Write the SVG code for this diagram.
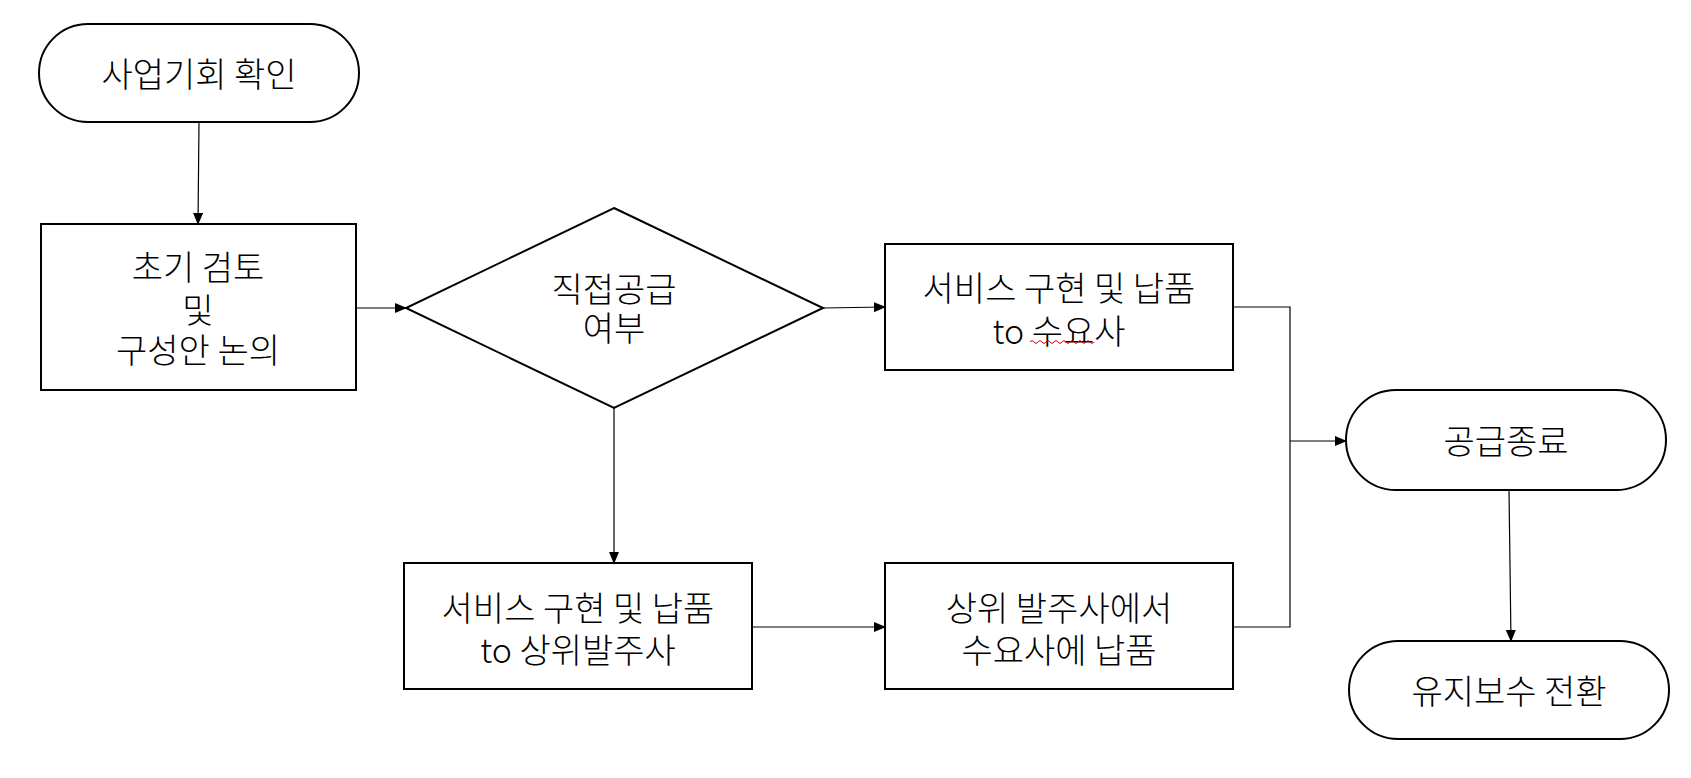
<svg xmlns="http://www.w3.org/2000/svg" width="1691" height="778" viewBox="0 0 1691 778">
<style>
.s{fill:#fff;stroke:#000;stroke-width:2}
.t{font-family:"Noto Sans CJK KR","Liberation Sans",sans-serif;font-size:34px;font-weight:300;text-anchor:middle;dominant-baseline:central;fill:#000}
.c{fill:none;stroke:#000;stroke-width:1.2}
</style>
<defs><marker id="a" markerWidth="12" markerHeight="10" refX="11" refY="5" orient="auto" markerUnits="userSpaceOnUse"><path d="M0,0L12,5L0,10z"/></marker></defs>
<rect width="1691" height="778" fill="#fff"/>
<g id="connectors">
<path class="c" d="M199,122L198,224" marker-end="url(#a)"/>
<path class="c" d="M356,308L406,308" marker-end="url(#a)"/>
<path class="c" d="M823,308L885,307" marker-end="url(#a)"/>
<path class="c" d="M614,408L614,563" marker-end="url(#a)"/>
<path class="c" d="M752,627L885,627" marker-end="url(#a)"/>
<path class="c" d="M1233,307L1290,307L1290,627L1233,627"/>
<path class="c" d="M1290,441L1346,441" marker-end="url(#a)"/>
<path class="c" d="M1509,490L1511,641" marker-end="url(#a)"/>
</g>
<g id="start"><rect class="s" x="39" y="24" width="320" height="98" rx="49"/><text class="t" x="199" y="72">사업기회 확인</text></g>
<g id="review"><rect class="s" x="41" y="224" width="315" height="166"/><text class="t" x="198" y="265">초기 검토</text><text class="t" x="198" y="308">및</text><text class="t" x="198" y="348">구성안 논의</text></g>
<g id="decision"><polygon class="s" points="614,208 823,308 614,408 406,308"/><text class="t" x="614" y="287">직접공급</text><text class="t" x="614" y="326">여부</text></g>
<g id="direct"><rect class="s" x="885" y="244" width="348" height="126"/><text class="t" x="1059" y="286">서비스 구현 및 납품</text><text class="t" x="1059" y="329">to 수요사</text><path d="M1030,342q2,-3 4,0t4,0t4,0t4,0t4,0t4,0t4,0t4,0t4,0t4,0t4,0t4,0t4,0t4,0t4,0t4,0" fill="none" stroke="#d00" stroke-width="1"/></g>
<g id="upper"><rect class="s" x="404" y="563" width="348" height="126"/><text class="t" x="578" y="606">서비스 구현 및 납품</text><text class="t" x="578" y="648">to 상위발주사</text></g>
<g id="via"><rect class="s" x="885" y="563" width="348" height="126"/><text class="t" x="1059" y="606">상위 발주사에서</text><text class="t" x="1059" y="648">수요사에 납품</text></g>
<g id="end"><rect class="s" x="1346" y="390" width="320" height="100" rx="50"/><text class="t" x="1506" y="439">공급종료</text></g>
<g id="maint"><rect class="s" x="1349" y="641" width="320" height="98" rx="49"/><text class="t" x="1509" y="689">유지보수 전환</text></g>
</svg>
